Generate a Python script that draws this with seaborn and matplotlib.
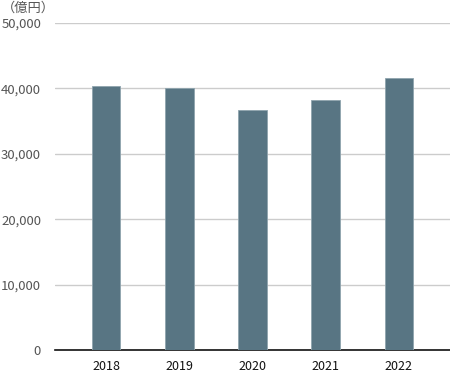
import matplotlib
matplotlib.use("Agg")
import matplotlib.pyplot as plt
import seaborn as sns
import pandas as pd

years = ["2018", "2019", "2020", "2021", "2022"]
values = [40400, 40050, 36700, 38200, 41650]
yticks = [0, 10000, 20000, 30000, 40000, 50000]
ytick_labels = ["0", "10,000", "20,000", "30,000", "40,000", "50,000"]
unit_label = "（億円）"

sns.set_theme(style="white")
plt.rcParams['font.family'] = ['Noto Sans CJK JP', 'DejaVu Sans']

df = pd.DataFrame({"year": years, "value": values})

fig = plt.figure(figsize=(4.5, 3.8), dpi=100)
ax = fig.add_axes([55/450, 30/380, 395/450, 327/380])

sns.barplot(data=df, x="year", y="value", color="#587583", saturation=1,
            width=0.39, edgecolor="#8fa4ae", linewidth=0.6, ax=ax, zorder=3)

ax.set_xlim(-0.7, 4.7)
ax.set_ylim(0, 50000)
ax.set_yticks(yticks)
ax.set_yticklabels(ytick_labels, color="#555555", fontsize=9.5)
ax.tick_params(axis="x", labelsize=9, colors="#111111", length=0, pad=7)
ax.tick_params(axis="y", length=0, pad=10)
ax.set_xlabel("")
ax.set_ylabel("")
ax.yaxis.grid(True, color="#cccccc", linewidth=1, zorder=0)
ax.set_axisbelow(True)
for s in ["left", "right", "top"]:
    ax.spines[s].set_visible(False)
ax.spines["bottom"].set_color("#111111")
ax.spines["bottom"].set_linewidth(1.2)

fig.text(2/450, 1 - 8/380, unit_label, fontsize=9.5, color="#555555",
         ha="left", va="center")

fig.savefig("out.png", dpi=100)
